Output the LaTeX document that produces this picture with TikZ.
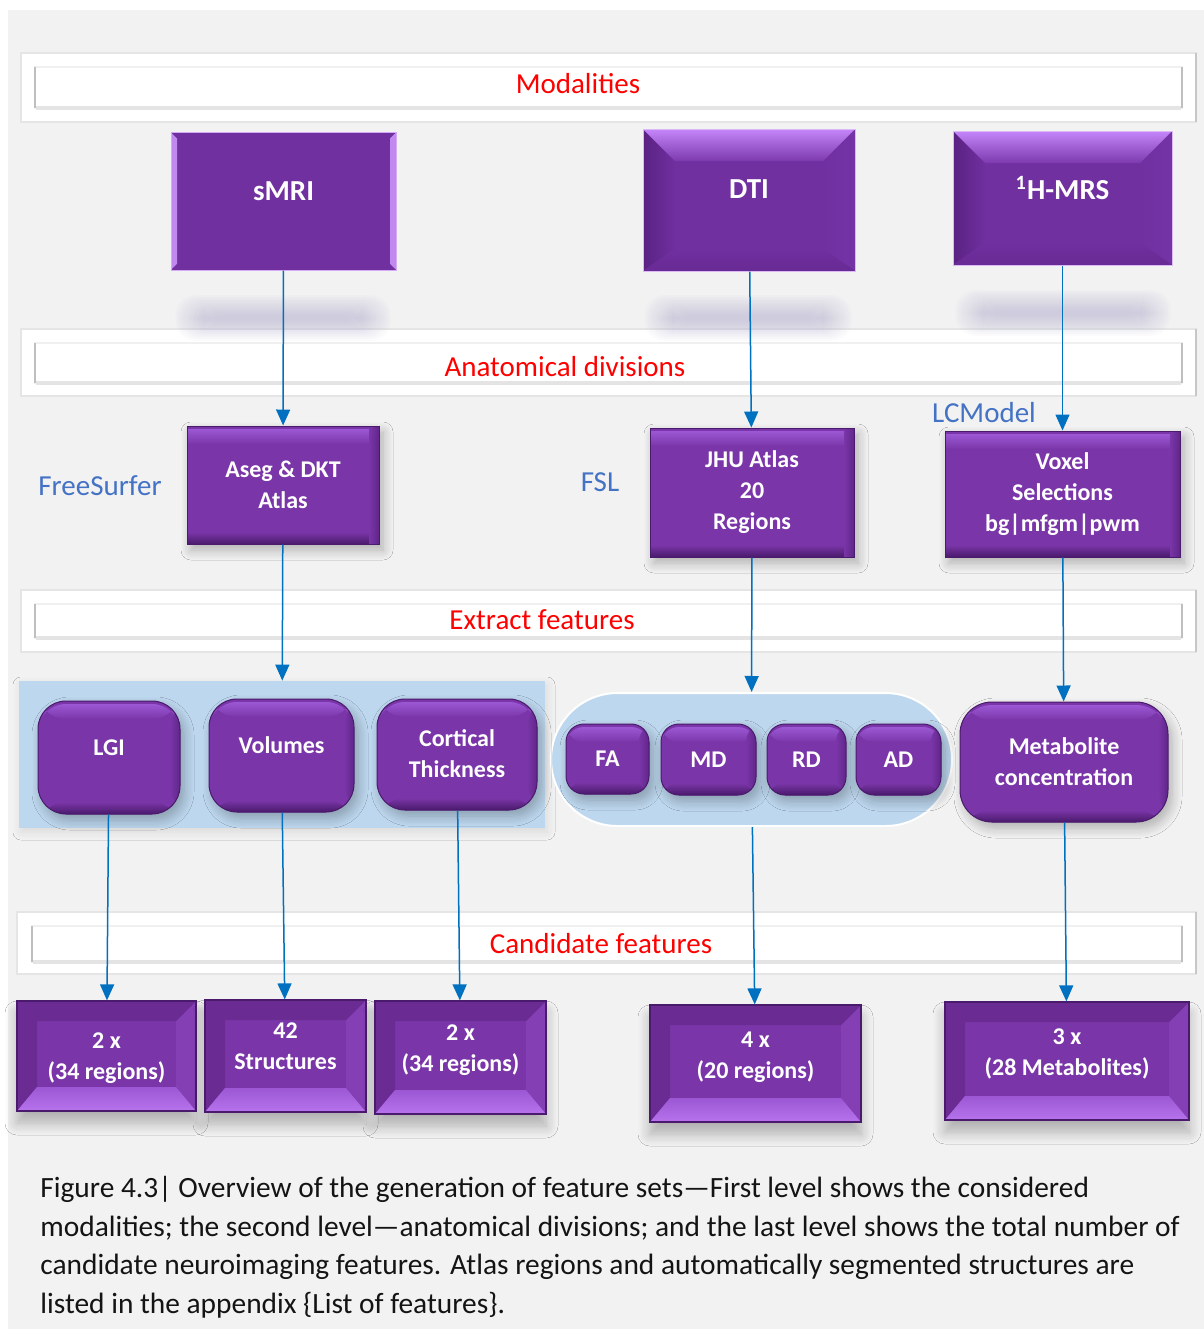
\documentclass[tikz,border=0pt]{standalone}
\usepackage{fontspec}
\setmainfont{Carlito}
\usetikzlibrary{arrows.meta,shapes.misc,shadows.blur}

\definecolor{bgc}{HTML}{F2F2F2}
\definecolor{purp}{HTML}{7030A0}
\definecolor{purpM}{HTML}{7A36A8}
\definecolor{purpHi}{HTML}{9C58D4}
\definecolor{purpL}{HTML}{B673EC}
\definecolor{purpTL}{HTML}{C486FA}
\definecolor{purpTM}{HTML}{7C3AAE}
\definecolor{purpD}{HTML}{5A2282}
\definecolor{purpB}{HTML}{682A94}
\definecolor{purpR}{HTML}{7434A6}
\definecolor{purpT2}{HTML}{6A2B92}
\definecolor{purpR2}{HTML}{843FB4}
\definecolor{purpDD}{HTML}{4A1A6C}
\definecolor{lblue}{HTML}{BDD7EE}
\definecolor{arrowc}{HTML}{0070C0}
\definecolor{labc}{HTML}{4472C4}
\definecolor{redc}{HTML}{FF0000}
\definecolor{glowc}{HTML}{A8A2CC}
\definecolor{bandline}{HTML}{E4E4E4}
\definecolor{bandedgec}{HTML}{BFBFBF}

\newcommand{\ppcorners}{%
  \coordinate (pNW) at (path picture bounding box.north west);
  \coordinate (pNE) at (path picture bounding box.north east);
  \coordinate (pSW) at (path picture bounding box.south west);
  \coordinate (pSE) at (path picture bounding box.south east);}

% #1 side width, #2 bottom width, #3 top, #4 bottom, #5 left, #6 right
\newcommand{\bevelsides}[6]{%
  \ppcorners
  \fill[#5] (pNW) -- ([shift={(#1,-#1)}]pNW) -- ([shift={(#1,#2)}]pSW) -- (pSW) -- cycle;
  \fill[#6] (pNE) -- ([shift={(-#1,-#1)}]pNE) -- ([shift={(-#1,#2)}]pSE) -- (pSE) -- cycle;
  \fill[#3] (pNW) -- (pNE) -- ([shift={(-#1,-#1)}]pNE) -- ([shift={(#1,-#1)}]pNW) -- cycle;
  \fill[#4] (pSW) -- (pSE) -- ([shift={(-#1,#2)}]pSE) -- ([shift={(#1,#2)}]pSW) -- cycle;}

\newcommand{\pillowfx}{%
  \ppcorners
  \fill[top color=purpHi, bottom color=purpM] ([yshift=-1.5pt]pNW) rectangle ([yshift=-9pt]pNE);
  \fill[top color=purpM, bottom color=purpDD] ([yshift=6pt]pSW) rectangle (pSE);
  \fill[left color=purpM, right color=purpD, opacity=0.8] ([xshift=-5pt]pNE) rectangle (pSE);}

% #1 outer left, #2 outer top, #3 outer bottom, #4 inner left, #5 inner top, #6 inner bottom
\newcommand{\bandrow}[6]{%
  \draw[bandouter] (#1,#2) rectangle (1196,#3);
  \draw[bandinner] (#4,#5) rectangle (1182,#6);
  \draw[bandedge] (#4,#5) -- (#4,#6);
  \draw[bandedge] (1182,#5) -- (1182,#6);
  \draw[bandbottom] ({#4+1},#6) -- (1181,#6);}

% #1 cx, #2 cy, #3 half width, #4 half height
\newcommand{\softglow}[4]{%
  \foreach \k in {0,...,11}
    \fill[glowc, opacity=0.045, rounded corners=10pt]
      ({#1-#3-2.5*\k},{#2-#4-1.8*\k}) rectangle ({#1+#3+2.5*\k},{#2+#4+1.8*\k});}

\tikzset{
  bandouter/.style={fill=white, draw=black!10, line width=0.6pt},
  bandinner/.style={fill=white, draw=black!6, line width=0.8pt},
  bandedge/.style={draw=bandedgec, line width=1.2pt},
  bandbottom/.style={draw=bandline, line width=1.6pt},
  bandlab/.style={text=redc, font=\fontsize{14.5}{17}\selectfont, inner sep=1pt},
  toollab/.style={text=labc, font=\fontsize{14.5}{17}\selectfont, inner sep=1pt},
  boxtxt/.style={text=white, align=center, inner sep=0pt, font=\bfseries\fontsize{12}{15.5}\selectfont},
  modbox/.style={boxtxt, font=\bfseries\fontsize{14.5}{17}\selectfont},
  flatbev/.style={modbox, fill=purp, draw=purpL!60, line width=0.5pt,
    path picture={\bevelsides{3pt}{3pt}{fill=purp}{fill=purp}{fill=purpL!85}{fill=purpL!85}}},
  deepbev/.style={modbox, fill=purp, draw=purpL!50, line width=0.5pt,
    path picture={\bevelsides{16pt}{11pt}{top color=purpTL, bottom color=purpTM}{top color=purp, bottom color=purpB}{left color=purpD, right color=purp}{left color=purp, right color=purpR}}},
  countbev/.style={boxtxt, fill=purpM, draw=purpDD, line width=0.6pt,
    path picture={\bevelsides{10pt}{12pt}{fill=purpT2}{top color=purpHi, bottom color=purpL}{fill=purpT2}{fill=purpR2}},
    blur shadow={shadow xshift=0pt, shadow yshift=-6pt, shadow blur radius=6pt, shadow blur steps=10, shadow opacity=28}},
  pillow/.style={boxtxt, fill=purpM, draw=purpDD, line width=0.5pt,
    path picture={\pillowfx},
    blur shadow={shadow xshift=2pt, shadow yshift=-3pt, shadow blur radius=5pt, shadow blur steps=10, shadow opacity=28}},
  grpbox/.style={fill=lblue, draw=none, inner sep=0pt,
    blur shadow={shadow xshift=1pt, shadow yshift=-2pt, shadow blur radius=4pt, shadow blur steps=8, shadow opacity=10}},
  capsule/.style={rounded rectangle, fill=lblue, draw=white, line width=1pt, inner sep=0pt},
  arr/.style={draw=arrowc, line width=0.75pt, -{Triangle[width=7pt,length=8pt]}},
  captxt/.style={text=black!92, align=left, inner sep=0pt, font=\fontsize{14.7}{19.3}\selectfont}
}

\begin{document}
\begin{tikzpicture}[x=0.5pt,y=-0.5pt]
\useasboundingbox (0,0) rectangle (1204,1329);
\fill[white] (0,0) rectangle (1204,1329);
\fill[bgc] (8,10) rectangle (1204,1329);

% bands
\bandrow{21}{53}{122}{35}{67}{108}
\bandrow{21}{329}{396}{35}{343}{383}
\bandrow{21}{590}{652}{35}{604}{638}
\bandrow{17}{912}{974}{32}{926}{962}
\draw[black!22, line width=1pt] (1196,53) -- (1196,122);
\draw[black!22, line width=1pt] (1196,329) -- (1196,396);
\draw[black!22, line width=1pt] (1196,590) -- (1196,652);
\draw[black!22, line width=1pt] (1196,912) -- (1196,974);

\node[bandlab] (lmod) at (578,84) {Modalities};
\node[bandlab] (lana) at (565,367) {Anatomical divisions};
\node[bandlab] (lext) at (542,620) {Extract features};
\node[bandlab] (lcan) at (601,944) {Candidate features};

% soft glows under modality boxes
\softglow{283}{318}{80}{3}
\softglow{748}{318}{76}{3}
\softglow{1063}{313}{80}{3}

% modalities
\node[flatbev, minimum width=112.5pt, minimum height=69pt, text depth=10pt] (smri) at (283.5,201) {sMRI};
\node[deepbev, minimum width=106pt, minimum height=71pt, text depth=11pt] (dti) at (749,200) {DTI};
\node[deepbev, minimum width=109.5pt, minimum height=67pt, text depth=10pt] (mrs) at (1062.5,198) {\textsuperscript{1}H-MRS};

% anatomical divisions
\node[pillow, minimum width=96pt, minimum height=59pt] (aseg) at (283,485) {Aseg \& DKT\\Atlas};
\node[pillow, minimum width=102pt, minimum height=64.5pt] (jhu) at (752,492.5) {JHU Atlas\\20\\Regions};
\node[pillow, minimum width=117.5pt, minimum height=63pt] (voxel) at (1062.5,494) {Voxel\\Selections\\bg|mfgm|pwm};

\node[toollab] (fs) at (100,486) {FreeSurfer};
\node[toollab] (fsl) at (600,482) {FSL};
\node[toollab] (lcm) at (984,413) {LCModel};

% extracted features
\node[grpbox, minimum width=263pt, minimum height=73.5pt] (grp) at (282,754.5) {};
\node[capsule, minimum width=200.5pt, minimum height=66.5pt] (cap) at (751.5,759.5) {};

\node[pillow, rounded corners=14pt, minimum width=71pt, minimum height=56.5pt, text depth=10pt] (lgi) at (109,757.5) {LGI};
\node[pillow, rounded corners=14pt, minimum width=72.5pt, minimum height=56.5pt, text depth=10pt] (vol) at (281.5,755.5) {Volumes};
\node[pillow, rounded corners=14pt, minimum width=80pt, minimum height=55.5pt, text depth=1pt] (cort) at (457,754.5) {Cortical\\Thickness};

\node[pillow, rounded corners=9pt, minimum width=41.5pt, minimum height=35pt, text depth=-2pt] (fa) at (607.5,759) {FA};
\node[pillow, rounded corners=9pt, minimum width=47.5pt, minimum height=35.5pt, text depth=-2pt] (md) at (708.5,759.5) {MD};
\node[pillow, rounded corners=9pt, minimum width=39.5pt, minimum height=35.5pt, text depth=-2pt] (rd) at (806.5,759.5) {RD};
\node[pillow, rounded corners=9pt, minimum width=42.5pt, minimum height=35.5pt, text depth=-2pt] (ad) at (898.5,759.5) {AD};

\node[pillow, rounded corners=16pt, minimum width=104pt, minimum height=60pt] (metab) at (1064,762) {Metabolite\\concentration};

% candidate features
\node[countbev, minimum width=89.5pt, minimum height=55pt, text depth=0pt] (c1) at (106.5,1056) {2 x\\(34 regions)};
\node[countbev, minimum width=80.5pt, minimum height=56pt, text depth=10pt] (c2) at (285.5,1056) {42\\Structures};
\node[countbev, minimum width=85.5pt, minimum height=56.5pt, text depth=9pt] (c3) at (460.5,1057.5) {2 x\\(34 regions)};
\node[countbev, minimum width=105.5pt, minimum height=58.5pt, text depth=8pt] (c4) at (755.5,1063.5) {4 x\\(20 regions)};
\node[countbev, minimum width=122pt, minimum height=59pt, text depth=8.5pt] (c5) at (1067,1061) {3 x\\(28 Metabolites)};

% connectors
\draw[arr] (smri) -- (aseg);
\draw[arr] (dti) -- (jhu);
\draw[arr] (mrs) -- (voxel);
\draw[arr] (aseg) -- (grp);
\draw[arr] (jhu) -- (cap);
\draw[arr] (voxel) -- (metab);
\draw[arr] (lgi) -- (c1);
\draw[arr] (vol) -- (c2);
\draw[arr] (cort) -- (c3);
\draw[arr] (cap) -- (c4);
\draw[arr] (metab) -- (c5);

% caption
\node[captxt, anchor=north west] (caption) at (40,1176) {Figure 4.3| Overview of the generation of feature sets—First level shows the considered\\
modalities; the second level—anatomical divisions; and the last level shows the total number of\\
candidate neuroimaging features. Atlas regions and automatically segmented structures are\\
listed in the appendix \{List of features\}.};
\end{tikzpicture}
\end{document}
